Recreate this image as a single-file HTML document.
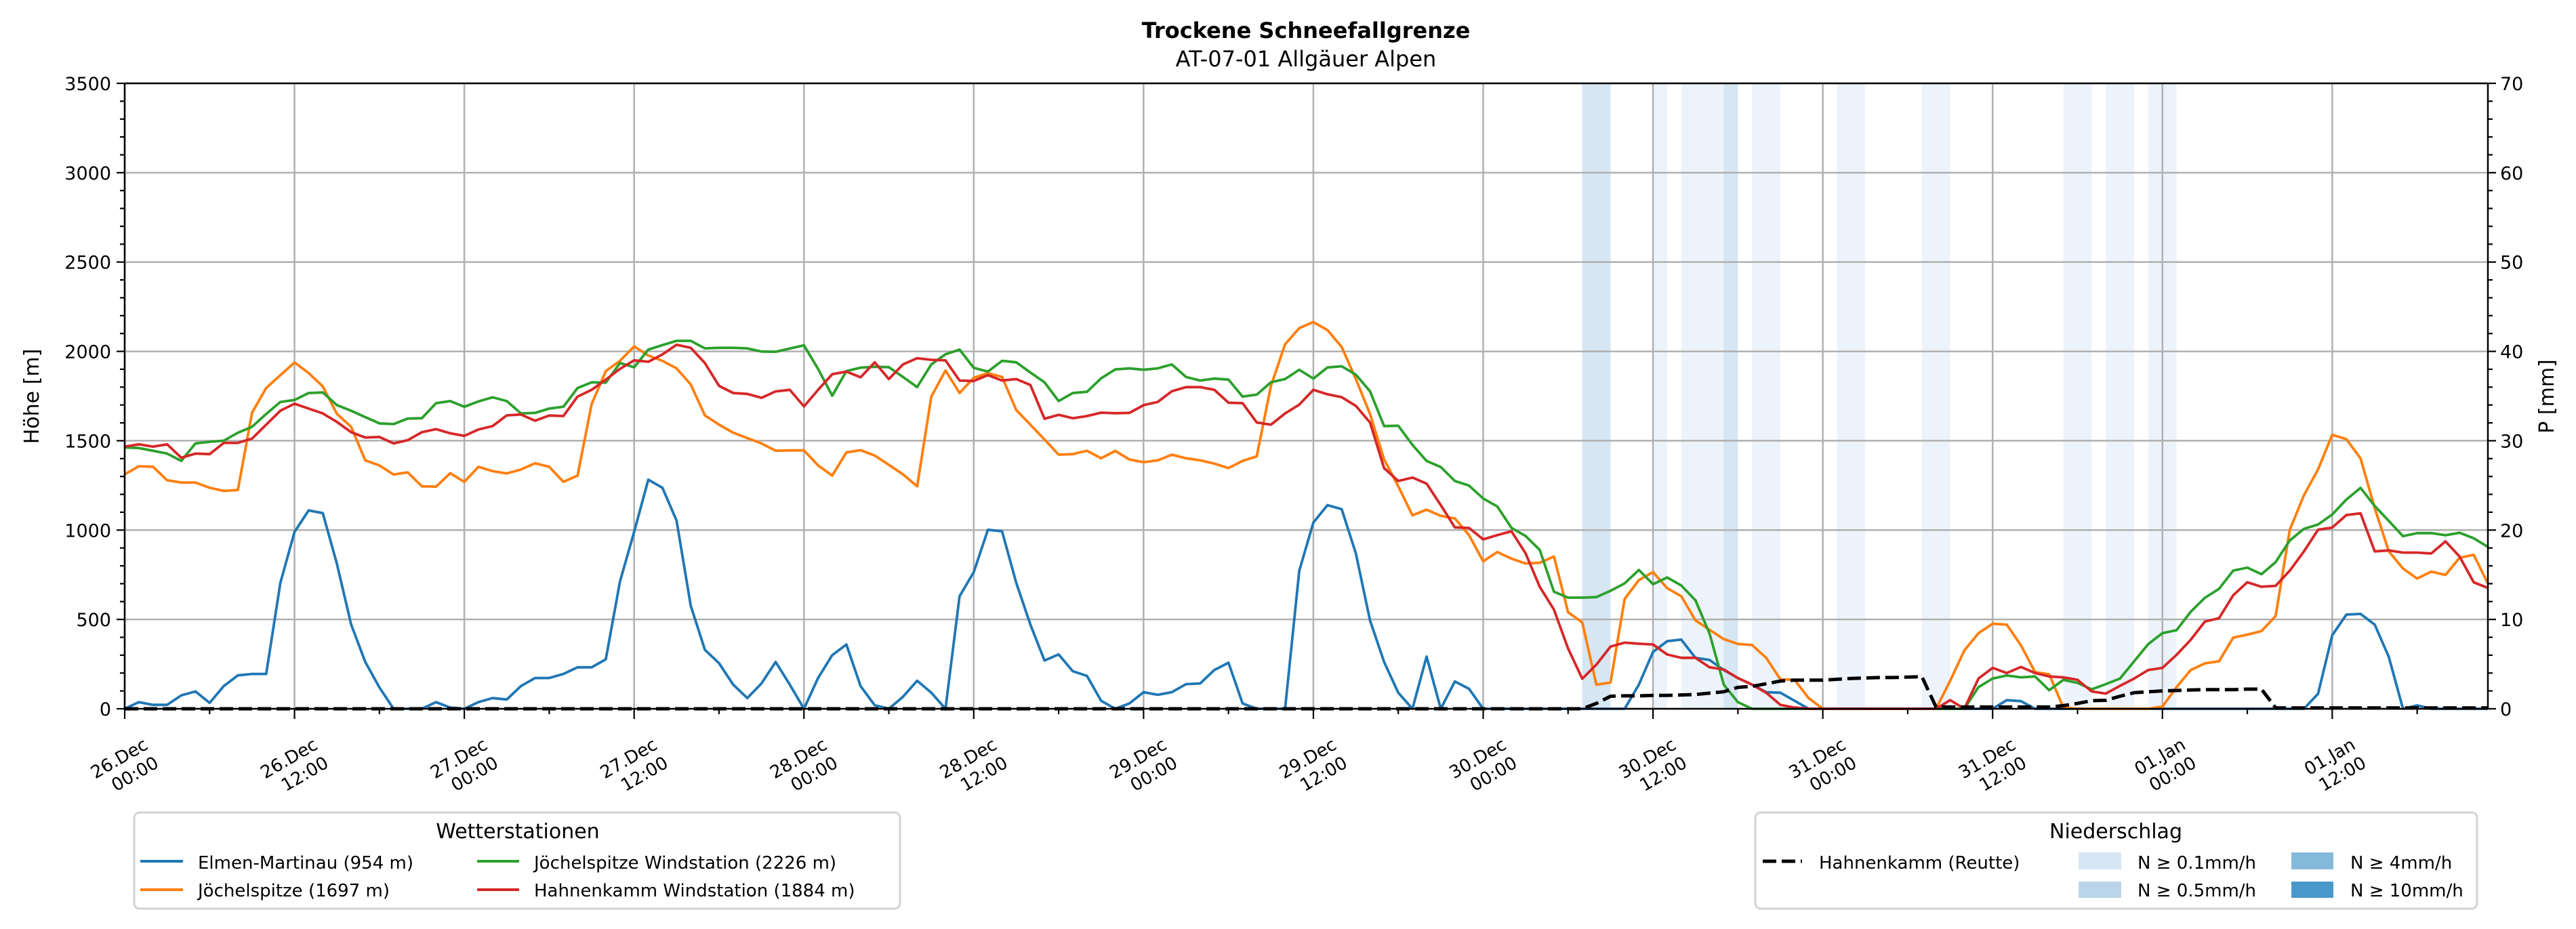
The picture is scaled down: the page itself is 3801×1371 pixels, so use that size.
<!DOCTYPE html>
<html><head><meta charset="utf-8"><title>Trockene Schneefallgrenze</title>
<style>
html,body{margin:0;padding:0;background:#fff;}
svg{display:block;font-family:"DejaVu Sans","Liberation Sans",sans-serif;}
</style></head>
<body>
<svg id="chart" xmlns="http://www.w3.org/2000/svg" width="3801" height="1371" viewBox="0 0 3801 1371">
<rect x="0" y="0" width="3801" height="1371" fill="#fff"/>
<text x="1927" y="56" font-size="32" font-weight="bold" text-anchor="middle">Trockene Schneefallgrenze</text>
<text x="1927" y="98" font-size="32" text-anchor="middle">AT-07-01 Allgäuer Alpen</text>
<g id="bands"></g>
<g id="grid"></g>
<g id="series"></g>
<g id="axes"></g>
<text transform="translate(57,585) rotate(-90)" font-size="30" text-anchor="middle">Höhe [m]</text>
<text transform="translate(3768,585) rotate(-90)" font-size="30" text-anchor="middle">P [mm]</text>

<g>
<rect x="198" y="1199" width="1130" height="142" rx="8" fill="#fff" stroke="#d3d3d3" stroke-width="3"/>
<text x="764" y="1237" font-size="30" text-anchor="middle">Wetterstationen</text>
<g><line x1="207" y1="1271" x2="270" y2="1271" stroke="#1f77b4" stroke-width="4"/><text x="292" y="1282" font-size="26">Elmen-Martinau (954 m)</text></g>
<g><line x1="207" y1="1313" x2="270" y2="1313" stroke="#ff7f0e" stroke-width="4"/><text x="292" y="1323" font-size="26">Jöchelspitze (1697 m)</text></g>
<g><line x1="704" y1="1271" x2="766" y2="1271" stroke="#2ca02c" stroke-width="4"/><text x="788" y="1282" font-size="26">Jöchelspitze Windstation (2226 m)</text></g>
<g><line x1="704" y1="1313" x2="766" y2="1313" stroke="#d62728" stroke-width="4"/><text x="788" y="1323" font-size="26">Hahnenkamm Windstation (1884 m)</text></g>
</g>

<g>
<rect x="2590" y="1199" width="1065" height="142" rx="8" fill="#fff" stroke="#d3d3d3" stroke-width="3"/>
<text x="3122" y="1237" font-size="30" text-anchor="middle">Niederschlag</text>
<g><line x1="2601" y1="1271" x2="2659" y2="1271" stroke="#000" stroke-width="5" stroke-dasharray="20,8"/><text x="2684" y="1282" font-size="26">Hahnenkamm (Reutte)</text></g>
<g><rect x="3067" y="1258" width="63" height="25" fill="#d6e6f4"/><text x="3154" y="1282" font-size="26">N ≥ 0.1mm/h</text></g>
<g><rect x="3067" y="1301" width="63" height="24" fill="#b9d5ea"/><text x="3154" y="1323" font-size="26">N ≥ 0.5mm/h</text></g>
<g><rect x="3381" y="1258" width="62" height="25" fill="#84b9da"/><text x="3468" y="1282" font-size="26">N ≥ 4mm/h</text></g>
<g><rect x="3381" y="1301" width="62" height="24" fill="#4a98c9"/><text x="3468" y="1323" font-size="26">N ≥ 10mm/h</text></g>
</g>
</svg>
<script>
// ---- data (hourly, starting 26.Dec 00:00) ----
const elmen = [0,37,22,22,75,97,33,127,187,195, 195,705,990,1110,1095,810,472,262,120,0, 0,0,37,7,0,37,60,52,127,172,
 172,195,232,232,277,712,990,1282,1237,1053, 577,330,255,135,60,142,262,135,0,172, 300,360,127,20,0,67,157,90,0,630,
 765,1002,993,705,472,270,304,210,184,45, 0,30,93,78,93,138,142,217,258,30, 0,0,0,772,1042,1140,1117,870,495,262,
 90,0,292,0,153,112,0,0,0,0, 0,0,0,0,0,0,0,135,318,378, 387,285,273,217,172,135,93,90,45,0,
 0,0,0,0,0,0,0,0,0,0, 0,0,0,48,43,0,0,0,0,0, 0,0,0,0,0,0,0,0,0,0, 0,0,0,0,0,84,411,527,531,471, 290,0,19,0,0,0,0,0];
const joechel = [1312,1357,1354,1279,1266,1266,1237,1219,1224,1657, 1795,1867,1938,1879,1804,1650,1578,1390,1362,1311,
 1323,1245,1243,1318,1270,1354,1330,1317,1339,1374, 1354,1270,1305,1705,1890,1947,2028,1977,1947,1905,
 1815,1642,1590,1545,1515,1485,1444,1446,1446,1362, 1305,1435,1447,1417,1365,1312,1245,1747,1893,1767,
 1852,1878,1857,1672,1590,1507,1422,1425,1444,1402, 1443,1395,1380,1390,1422,1402,1390,1372,1347,1387,
 1413,1807,2040,2130,2164,2119,2025,1845,1650,1395, 1245,1083,1114,1080,1065,972,825,877,840,813,
 817,852,540,483,135,147,615,720,765,675, 630,495,442,390,363,357,285,165,162,60,
 0,0,0,0,0,0,0,0,0,157, 326,423,476,471,355,205,193,7,0,0, 0,0,0,0,12,121,217,254,266,398,
 415,435,519,1002,1195,1340,1533,1509,1401,1123, 881,785,729,768,749,845,862,700];
const joechelWind = [1462,1459,1444,1428,1387,1485,1494,1500,1545,1578, 1650,1717,1728,1767,1770,1699,1668,1632,1597,1593,
 1624,1626,1710,1722,1690,1720,1743,1722,1653,1656, 1680,1690,1795,1827,1825,1935,1911,2010,2035,2059,
 2059,2017,2020,2020,2017,1999,1998,2016,2034,1902, 1752,1890,1909,1914,1912,1857,1800,1927,1984,2010,
 1908,1887,1947,1939,1882,1827,1722,1767,1774,1849, 1899,1905,1897,1905,1927,1857,1837,1848,1842,1747,
 1758,1827,1845,1897,1848,1910,1917,1870,1777,1582, 1584,1477,1387,1353,1275,1249,1177,1132,1012,967,
 889,655,622,622,625,660,702,777,697,735, 690,607,420,135,37,0,0,0,0,0,
 0,0,0,0,0,0,0,0,0,0, 0,121,169,186,176,181,104,162,145,109, 138,169,266,362,423,440,543,621,671,773,
 790,753,821,942,1007,1031,1087,1171,1236,1135, 1051,966,983,983,971,985,954,906];
const hahnenWind = [1467,1480,1467,1480,1405,1428,1425,1488,1488,1512, 1590,1668,1707,1680,1653,1605,1548,1518,1521,1485,
 1503,1548,1565,1542,1527,1563,1582,1642,1647,1612, 1641,1638,1747,1785,1842,1902,1950,1942,1983,2037,
 2020,1935,1807,1767,1762,1740,1776,1785,1692,1785, 1872,1887,1855,1939,1845,1927,1962,1953,1950,1837,
 1834,1867,1837,1845,1812,1623,1645,1626,1638,1657, 1654,1656,1699,1717,1777,1800,1800,1785,1713,1710,
 1602,1590,1653,1702,1785,1760,1744,1695,1602,1347, 1275,1294,1260,1140,1015,1012,948,972,993,870,
 682,555,337,168,247,348,370,364,360,304, 285,285,232,220,172,135,90,22,7,0,
 0,0,0,0,0,0,0,0,0,48, 0,169,229,200,234,200,181,176,162,97, 85,128,169,217,229,302,386,488,507,635,
 708,683,688,773,881,1002,1014,1084,1094,881, 886,874,874,869,937,852,708,676];
const precipReutte = [0,0,0,0,0,0,0,0,0,0, 0,0,0,0,0,0,0,0,0,0, 0,0,0,0,0,0,0,0,0,0, 0,0,0,0,0,0,0,0,0,0,
 0,0,0,0,0,0,0,0,0,0, 0,0,0,0,0,0,0,0,0,0, 0,0,0,0,0,0,0,0,0,0, 0,0,0,0,0,0,0,0,0,0,
 0,0,0,0,0,0,0,0,0,0, 0,0,0,0,0,0,0,0,0,0, 0,0,0,0,0.6,1.4,1.45,1.45,1.5,1.5,
 1.55,1.6,1.75,1.9,2.4,2.5,2.8,3.1,3.2,3.2, 3.2,3.3,3.4,3.45,3.5,3.5,3.55,3.6,0.2,0.2,
 0.2,0.2,0.2,0.2,0.2,0.2,0.2,0.35,0.6,0.9, 0.95,1.4,1.8,1.9,2.0,2.05,2.1,2.15,2.15,2.15,
 2.2,2.2,0.1,0.1,0.1,0.1,0.1,0.1,0.1,0.1, 0.1,0.1,0.1,0.1,0.1,0.1,0.1,0.1];
const bandStart = [103,108,110,113,115,121,127,137,140,143];
const bandEnd   = [105,109,113,114,117,123,129,139,142,145];
const bandLevel = [2,1,1,2,1,1,1,1,1,1];
const yTicks = [0,500,1000,1500,2000,2500,3000,3500];
const yTicksRight = [0,10,20,30,40,50,60,70];
const xTickDates = ["26.Dec","26.Dec","27.Dec","27.Dec","28.Dec","28.Dec","29.Dec","29.Dec","30.Dec","30.Dec","31.Dec","31.Dec","01.Jan","01.Jan"];
const xTickTimes = ["00:00","12:00","00:00","12:00","00:00","12:00","00:00","12:00","00:00","12:00","00:00","12:00","00:00","12:00"];

// ---- axes ----
const NS="http://www.w3.org/2000/svg";
const L=184,R=3671,T=123,B=1046,HMAX=167,YMAX=3500,PMAX=70;
function xs(h){return L+(R-L)*h/HMAX;}
function ys(v){return B-(B-T)*v/YMAX;}
function yp(v){return B-(B-T)*v/PMAX;}
function mk(tag,attrs,parent){const e=document.createElementNS(NS,tag);for(const k in attrs)e.setAttribute(k,attrs[k]);parent.appendChild(e);return e;}
const gB=document.getElementById('bands'),gG=document.getElementById('grid'),gS=document.getElementById('series'),gA=document.getElementById('axes');

bandStart.forEach((s,i)=>{
  const r=mk('rect',{x:xs(s),y:T,width:xs(bandEnd[i])-xs(s),height:B-T,fill:bandLevel[i]===2?'#d6e6f3':'#edf3fa'},gB);
  
  
});
xTickDates.forEach((d,i)=>{
  const l=mk('line',{x1:xs(i*12),y1:T,x2:xs(i*12),y2:B,stroke:'#b0b0b0','stroke-width':2.5},gG);
  
  
});
yTicks.forEach(v=>{
  const l=mk('line',{x1:L,y1:ys(v),x2:R,y2:ys(v),stroke:'#b0b0b0','stroke-width':2.5},gG);
  
  
});
function drawLine(arr,color,name,scale,dash){
  let d='';arr.forEach((v,h)=>{d+=(h?'L':'M')+xs(h).toFixed(1)+','+scale(v).toFixed(1);});
  const p=mk('path',{d:d,fill:'none',stroke:color,'stroke-width':dash?5:3.8,'stroke-linejoin':'round'},gS);
  if(dash)p.setAttribute('stroke-dasharray','20,8');
  
  
}
drawLine(elmen,'#1f77b4','line-elmen-martinau',ys);
drawLine(joechel,'#ff7f0e','line-joechelspitze',ys);
drawLine(joechelWind,'#2ca02c','line-joechelspitze-windstation',ys);
drawLine(hahnenWind,'#d62728','line-hahnenkamm-windstation',ys);
drawLine(precipReutte,'#000','line-hahnenkamm-reutte-precip',yp,true);

const fr=mk('rect',{x:L,y:T,width:R-L,height:B-T,fill:'none',stroke:'#000','stroke-width':2.5},gA);


for(let v=0;v<=YMAX;v+=100){
  const major=v%500===0,len=major?12:7;
  mk('line',{x1:L-len,y1:ys(v),x2:L,y2:ys(v),stroke:'#000','stroke-width':2.2},gA);
  mk('line',{x1:R,y1:ys(v),x2:R+len,y2:ys(v),stroke:'#000','stroke-width':2.2},gA);
}
yTicks.forEach(v=>{
  const t=mk('text',{x:L-20,y:ys(v)+10,'font-size':27,'text-anchor':'end'},gA);
  t.textContent=v;
  
  
});
yTicksRight.forEach(v=>{
  const t=mk('text',{x:R+18,y:yp(v)+10,'font-size':27,'text-anchor':'start'},gA);
  t.textContent=v;
  
  
});
for(let h=0;h<=HMAX;h+=6){
  const major=h%12===0;
  mk('line',{x1:xs(h),y1:B,x2:xs(h),y2:B+(major?15:8),stroke:'#000','stroke-width':2.2},gA);
}
xTickDates.forEach((d,i)=>{
  const x=xs(i*12);
  const t1=mk('text',{x:0,y:0,'font-size':26,'text-anchor':'end',transform:`translate(${x+36},1104) rotate(-30)`},gA);
  t1.textContent=d;
  
  
  const t2=mk('text',{x:0,y:0,'font-size':26,'text-anchor':'end',transform:`translate(${x+52},1131) rotate(-30)`},gA);
  t2.textContent=xTickTimes[i];
  
  
});
</script>
</body></html>
